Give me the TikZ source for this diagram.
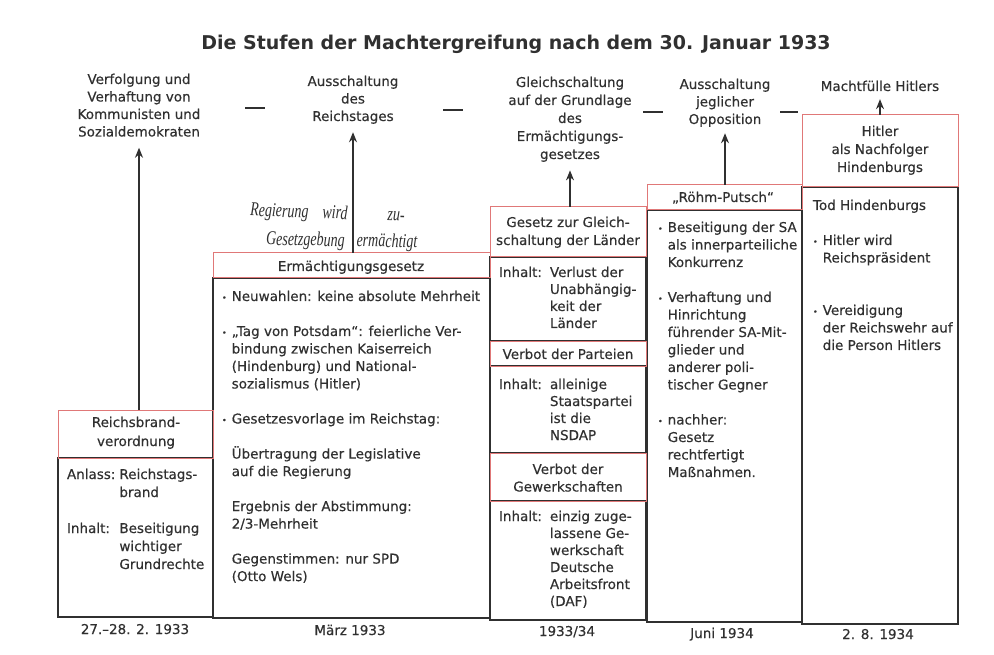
\documentclass[tikz,border=0pt]{standalone}
\usepackage{fontspec}
\setmainfont{DejaVu Sans}[UprightFeatures={FakeBold=0.35}]
\newfontfamily\handfont{Liberation Serif}
\usetikzlibrary{arrows.meta}
\definecolor{ink}{HTML}{303030}
\definecolor{redline}{HTML}{E07878}
% centred multi-line block whose baseline is its first line
\newcommand\ctab[1]{\begin{tabular}[t]{@{}c@{}}#1\end{tabular}}
\newcommand\sz[2]{\fontsize{#1}{#2}\selectfont}
% small list dot
\newcommand\dotmark{\raisebox{0.5pt}{\fontsize{8}{8}\selectfont •}}
\begin{document}
\begin{tikzpicture}[x=1pt,y=-1pt,
  every node/.style={inner sep=0pt,outer sep=0pt,text=ink},
  lbl/.style={anchor=base,font=\sz{13.5}{17.5}},
  txt/.style={anchor=base west,font=\sz{13.5}{17.5}},
  frame/.style={draw=ink,line width=1.1pt,anchor=north west},
  head/.style={draw=redline,line width=1pt,anchor=north west},
  up/.style={draw=ink,line width=1.1pt,-{Stealth[length=10pt,width=8pt]}},
  sepline/.style={draw=ink,line width=1.2pt},
  hand/.style={anchor=base west,font=\handfont\itshape\sz{14}{16}}
]
\fill[white] (0,0) rectangle (994,655);
\useasboundingbox (0,0) rectangle (994,655);

% title
\node[anchor=base,font=\bfseries\sz{19}{22}] (title) at (516,50)
  {Die Stufen der Machtergreifung nach dem 30. Januar 1933};

% stages along the top
\node[lbl] (t1) at (139,84) {\ctab{Verfolgung und\\Verhaftung von\\Kommunisten und\\Sozialdemokraten}};
\node[lbl] (t2) at (353,86) {\ctab{Ausschaltung\\des\\Reichstages}};
\node[lbl,font=\sz{13.5}{18}] (t3) at (570,87) {\ctab{Gleichschaltung\\auf der Grundlage\\des\\Ermächtigungs-\\gesetzes}};
\node[lbl] (t4) at (725,89) {\ctab{Ausschaltung\\jeglicher\\Opposition}};
\node[lbl] (t5) at (880,91) {Machtfülle Hitlers};

\draw[sepline] (245,108) -- (265,108);
\draw[sepline] (443,110) -- (463,110);
\draw[sepline] (643,112) -- (663,112);
\draw[sepline] (780,112) -- (798,112);

% column frames
\node[frame,minimum width=155pt,minimum height=159pt] (b1) at (58,458) {};
\node[frame,minimum width=277pt,minimum height=340pt] (b2) at (213,278) {};
\node[frame,minimum width=156pt,minimum height=84pt] (b3a) at (490,257) {};
\node[frame,minimum width=156pt,minimum height=87pt] (b3b) at (490,366) {};
\node[frame,minimum width=156pt,minimum height=119pt] (b3c) at (490,501) {};
\node[frame,minimum width=155pt,minimum height=412pt] (b4) at (647,210) {};
\node[frame,minimum width=156pt,minimum height=437pt] (b5) at (802,187) {};

% headings in red frames
\node[head,minimum width=155pt,minimum height=48pt] (k1) at (58,410) {};
\node[head,minimum width=277pt,minimum height=25pt] (k2) at (213,253) {};
\node[head,minimum width=156pt,minimum height=50pt] (k3a) at (490,207) {};
\node[head,minimum width=156pt,minimum height=25pt] (k3b) at (490,341) {};
\node[head,minimum width=156pt,minimum height=48pt] (k3c) at (490,453) {};
\node[head,minimum width=155pt,minimum height=25pt] (k4) at (647,185) {};
\node[head,minimum width=156pt,minimum height=72pt] (k5) at (802,115) {};

\node[lbl,font=\sz{13.5}{19}] (k1t) at (136,427) {\ctab{Reichsbrand-\\verordnung}};
\node[lbl] (k2t) at (351,271) {Ermächtigungsgesetz};
\node[lbl,font=\sz{13.5}{18}] (k3at) at (568,227) {\ctab{Gesetz zur Gleich-\\schaltung der Länder}};
\node[lbl] (k3bt) at (568,359) {Verbot der Parteien};
\node[lbl] (k3ct) at (568,474) {\ctab{Verbot der\\Gewerkschaften}};
\node[lbl] (k4t) at (723,202) {„Röhm-Putsch“};
\node[lbl,font=\sz{13.5}{18}] (k5t) at (880,136) {\ctab{Hitler\\als Nachfolger\\Hindenburgs}};

% column contents
\node[txt,font=\sz{13.5}{18}] (c1) at (67,479) {\begin{tabular}[t]{@{}l@{\hspace{4pt}}l@{}}
  Anlass: & Reichstags-\\ & brand\\[18pt]
  Inhalt: & Beseitigung\\ & wichtiger\\ & Grundrechte\end{tabular}};

\node[txt] (c2) at (222,301) {\begin{tabular}[t]{@{}l@{\hspace{5pt}}l@{}}
  \dotmark & Neuwahlen: keine absolute Mehrheit\\[17.5pt]
  \dotmark & „Tag von Potsdam“: feierliche Ver-\\ & bindung zwischen Kaiserreich\\
    & (Hindenburg) und National-\\ & sozialismus (Hitler)\\[17.5pt]
  \dotmark & Gesetzesvorlage im Reichstag:\\[17.5pt]
    & Übertragung der Legislative\\ & auf die Regierung\\[17.5pt]
    & Ergebnis der Abstimmung:\\ & 2/3-Mehrheit\\[17.5pt]
    & Gegenstimmen: nur SPD\\ & (Otto Wels)\end{tabular}};

\node[txt,font=\sz{13.5}{17}] (c3a) at (499,277) {\begin{tabular}[t]{@{}l@{\hspace{8pt}}l@{}}
  Inhalt: & Verlust der\\ & Unabhängig-\\ & keit der\\ & Länder\end{tabular}};
\node[txt,font=\sz{13.5}{17}] (c3b) at (499,389) {\begin{tabular}[t]{@{}l@{\hspace{8pt}}l@{}}
  Inhalt: & alleinige\\ & Staatspartei\\ & ist die\\ & NSDAP\end{tabular}};
\node[txt,font=\sz{13.5}{17}] (c3c) at (499,521) {\begin{tabular}[t]{@{}l@{\hspace{8pt}}l@{}}
  Inhalt: & einzig zuge-\\ & lassene Ge-\\ & werkschaft\\ & Deutsche\\ & Arbeitsfront\\ & (DAF)\end{tabular}};

\node[txt] (c4) at (658,232) {\begin{tabular}[t]{@{}l@{\hspace{5pt}}l@{}}
  \dotmark & Beseitigung der SA\\ & als innerparteiliche\\ & Konkurrenz\\[17.5pt]
  \dotmark & Verhaftung und\\ & Hinrichtung\\ & führender SA-Mit-\\ & glieder und\\
    & anderer poli-\\ & tischer Gegner\\[17.5pt]
  \dotmark & nachher:\\ & Gesetz\\ & rechtfertigt\\ & Maßnahmen.\end{tabular}};

\node[txt] (c5) at (813,210) {\begin{tabular}[t]{@{}l@{\hspace{5pt}}l@{}}
  \multicolumn{2}{@{}l@{}}{Tod Hindenburgs}\\[17.5pt]
  \dotmark & Hitler wird\\ & Reichspräsident\\[35pt]
  \dotmark & Vereidigung\\ & der Reichswehr auf\\ & die Person Hitlers\end{tabular}};

% dates
\node[lbl] (d1) at (135,634) {27.–28. 2. 1933};
\node[lbl] (d2) at (350,635) {März 1933};
\node[lbl] (d3) at (567,636) {1933/34};
\node[lbl] (d4) at (722,638) {Juni 1934};
\node[lbl] (d5) at (878,639) {2. 8. 1934};

% arrows from each step to its outcome
\draw[up,shorten >=6pt] (t1.south |- k1.north) -- (t1.south);
\draw[up,shorten >=6pt] (t2.south |- k2.north) -- (t2.south);
\draw[up,shorten >=6pt] (t3.south |- k3a.north) -- (t3.south);
\draw[up,shorten >=4pt] (t4.south |- k4.north) -- (t4.south);
\draw[up,shorten >=8pt] (t5.south |- k5.north) -- (t5.south);

% handwritten note
\node[hand,rotate=-2] (hw1) at (250,216) {\scalebox{1}[1.4]{Regierung\hspace{14pt}wird\hspace{40pt}zu-}};
\node[hand,rotate=-1] (hw2) at (266,245) {\scalebox{1}[1.4]{Gesetzgebung\hspace{12pt}ermächtigt}};
\end{tikzpicture}
\end{document}
